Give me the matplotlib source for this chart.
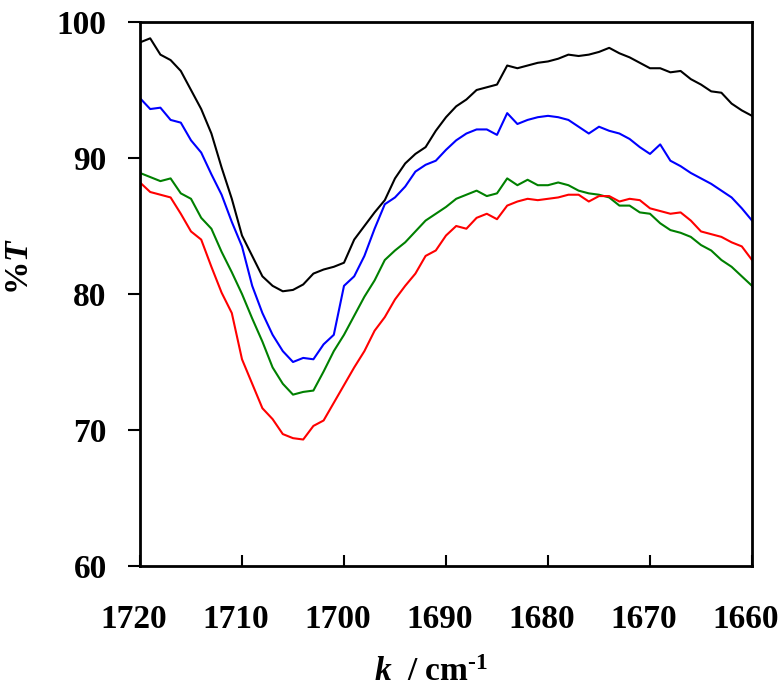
import numpy as np
import matplotlib
matplotlib.use("Agg")
import matplotlib.pyplot as plt
from matplotlib.transforms import ScaledTranslation

# wavenumber grid, 1720 -> 1660 cm-1
k = np.arange(1720, 1659, -1)

black = [98.5, 98.8, 97.6, 97.2, 96.4, 95.0, 93.6, 91.8, 89.3, 87.0,
         84.3, 82.8, 81.3, 80.6, 80.2, 80.3, 80.7, 81.5, 81.8, 82.0,
         82.3, 84.0, 85.0, 86.0, 86.9, 88.5, 89.6, 90.3, 90.8, 92.0,
         93.0, 93.8, 94.3, 95.0, 95.2, 95.4, 96.8, 96.6, 96.8, 97.0,
         97.1, 97.3, 97.6, 97.5, 97.6, 97.8, 98.1, 97.7, 97.4, 97.0,
         96.6, 96.6, 96.3, 96.4, 95.8, 95.4, 94.9, 94.8, 94.0, 93.5,
         93.1]
blue = [94.4, 93.6, 93.7, 92.8, 92.6, 91.3, 90.4, 88.8, 87.3, 85.3,
        83.5, 80.6, 78.6, 77.0, 75.8, 75.0, 75.3, 75.2, 76.3, 77.0,
        80.6, 81.3, 82.8, 84.8, 86.6, 87.1, 87.9, 89.0, 89.5, 89.8,
        90.6, 91.3, 91.8, 92.1, 92.1, 91.7, 93.3, 92.5, 92.8, 93.0,
        93.1, 93.0, 92.8, 92.3, 91.8, 92.3, 92.0, 91.8, 91.4, 90.8,
        90.3, 91.0, 89.8, 89.4, 88.9, 88.5, 88.1, 87.6, 87.1, 86.3,
        85.4]
green = [88.9, 88.6, 88.3, 88.5, 87.4, 87.0, 85.6, 84.8, 83.1, 81.6,
         80.0, 78.2, 76.5, 74.6, 73.4, 72.6, 72.8, 72.9, 74.3, 75.8,
         77.0, 78.4, 79.8, 81.0, 82.5, 83.2, 83.8, 84.6, 85.4, 85.9,
         86.4, 87.0, 87.3, 87.6, 87.2, 87.4, 88.5, 88.0, 88.4, 88.0,
         88.0, 88.2, 88.0, 87.6, 87.4, 87.3, 87.1, 86.5, 86.5, 86.0,
         85.9, 85.2, 84.7, 84.5, 84.2, 83.6, 83.2, 82.5, 82.0, 81.3,
         80.6]
red = [88.2, 87.5, 87.3, 87.1, 85.9, 84.6, 84.0, 82.0, 80.1, 78.6,
       75.2, 73.4, 71.6, 70.8, 69.7, 69.4, 69.3, 70.3, 70.7, 72.0,
       73.3, 74.6, 75.8, 77.3, 78.3, 79.6, 80.6, 81.5, 82.8, 83.2,
       84.3, 85.0, 84.8, 85.6, 85.9, 85.5, 86.5, 86.8, 87.0, 86.9,
       87.0, 87.1, 87.3, 87.3, 86.8, 87.2, 87.2, 86.8, 87.0, 86.9,
       86.3, 86.1, 85.9, 86.0, 85.4, 84.6, 84.4, 84.2, 83.8, 83.5,
       82.5]

plt.rcParams['font.family'] = ['Liberation Serif', 'DejaVu Serif']
plt.rcParams['font.weight'] = 'bold'
plt.rcParams['mathtext.fontset'] = 'custom'
plt.rcParams['mathtext.bfit'] = 'Liberation Serif:bold:italic'
plt.rcParams['mathtext.it'] = 'Liberation Serif:bold:italic'
plt.rcParams['mathtext.rm'] = 'Liberation Serif:bold'
plt.rcParams['mathtext.bf'] = 'Liberation Serif:bold'

W, H = 783, 689
fig = plt.figure(figsize=(W / 100, H / 100), dpi=100)
ax = fig.add_axes([140 / W, 1 - 566 / H, 612 / W, 544 / H])

ax.plot(k, black, color='black', lw=1.5)
ax.plot(k, blue, color='blue', lw=1.5)
ax.plot(k, green, color='green', lw=1.5)
ax.plot(k, red, color='red', lw=1.5)

ax.set_xlim(1720, 1660)
ax.set_ylim(60, 100)
ax.set_xticks([1720, 1710, 1700, 1690, 1680, 1670, 1660])
ax.set_yticks([60, 70, 80, 90, 100])
for s in ax.spines.values():
    s.set_linewidth(2)
ax.tick_params(axis='x', direction='in', length=8, width=1.5, pad=27, labelsize=24)
ax.tick_params(axis='y', direction='out', length=9, width=1.5, pad=15, labelsize=24)

# x tick labels sit slightly left of their ticks in the original
shift = ScaledTranslation(-6 / 100, 0, fig.dpi_scale_trans)
for lbl in ax.get_xticklabels():
    lbl.set_transform(lbl.get_transform() + shift)

fig.text(431 / W, 8 / H, '$\\mathbfit{k}$  / cm$^{\\mathbf{\u20101}}$',
         fontsize=24, fontweight='bold', ha='center', va='baseline')
fig.text(19 / W, 1 - 267 / H, '%$\\mathbfit{T}$', fontsize=24, fontweight='bold',
         rotation=90, ha='center', va='center')

fig.savefig('out.png', dpi=100)
